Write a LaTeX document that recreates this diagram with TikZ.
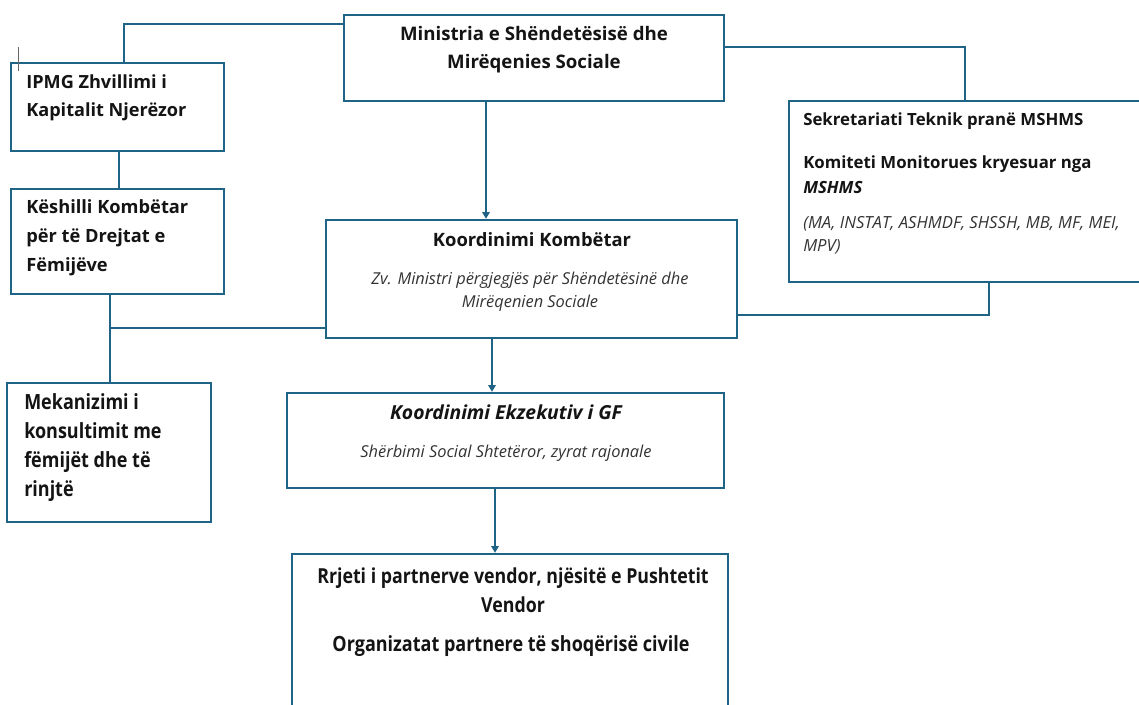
\documentclass[tikz,border=0pt]{standalone}
\usepackage{fontspec}
\setmainfont{Open Sans}
\newfontfamily\narrowfont[FakeStretch=0.86]{Open Sans}
\usetikzlibrary{fit,arrows.meta}
\definecolor{edge}{RGB}{31,100,135}
\definecolor{txt}{RGB}{20,20,20}
\begin{document}
\begin{tikzpicture}[x=0.75pt,y=-0.75pt,
  box/.style={draw=edge,line width=1.8pt,inner sep=0pt},
  conn/.style={draw=edge,line width=1.4pt},
  arr/.style={conn,-{Triangle[width=5.5pt,length=5pt]}},
  lbl/.style={inner sep=0pt,text=txt},
  bold12/.style={lbl,font=\bfseries\fontsize{13.8}{21}\selectfont},
  sub/.style={lbl,font=\itshape\fontsize{12.3}{17.25}\selectfont,text=black!80}]
\useasboundingbox[fill=white] (0,0) rectangle (1139,704);

% boxes
\node[box,fit={(344,15) (724,101)}] (min) {};
\node[box,fit={(11,63) (224,151)}] (ipmg) {};
\node[box,fit={(11,189) (224,294)}] (kesh) {};
\node[box,fit={(7,383) (211,522)}] (mek) {};
\node[box,fit={(326,220) (737,338)}] (kk) {};
\node[box,fit={(789,101) (1150,282)}] (sek) {};
\node[box,fit={(287,393) (724,488)}] (ke) {};
\node[box,fit={(292,554) (728,720)}] (rr) {};

% texts
\node[bold12,align=center,font=\bfseries\fontsize{14}{21}\selectfont] (tmin) at (534,50) {Ministria e Shëndetësisë dhe\\Mirëqenies Sociale};
\node[bold12,align=left,anchor=west,font=\bfseries\fontsize{13.6}{21}\selectfont] (tipmg) at (26,98) {IPMG Zhvillimi i\\Kapitalit Njerëzor};
\node[bold12,align=left,anchor=west,font=\bfseries\fontsize{13.7}{21.75}\selectfont] (tkesh) at (26,238) {Këshilli Kombëtar\\për të Drejtat e\\Fëmijëve};
\node[lbl,align=left,anchor=west,font=\narrowfont\bfseries\fontsize{15.7}{21.75}\selectfont] (tmek) at (24,447.5) {Mekanizimi i\\konsultimit me\\fëmijët dhe të\\rinjtë};
\node[bold12] (tkk) at (532,240) {Koordinimi Kombëtar};
\node[sub,align=center] (tkk2) at (530,291.5) {Zv. Ministri përgjegjës për Shëndetësinë dhe\\Mirëqenien Sociale};
\node[lbl,anchor=west,font=\bfseries\fontsize{12.6}{18.75}\selectfont] (tsek1) at (803,121) {Sekretariati Teknik pranë MSHMS};
\node[lbl,anchor=west,align=left,font=\bfseries\fontsize{12.6}{18.75}\selectfont] (tsek2) at (803,174.5) {Komiteti Monitorues kryesuar nga\\\textit{MSHMS}};
\node[lbl,anchor=west,align=left,font=\itshape\fontsize{12.5}{17.25}\selectfont,text=black!80] (tsek3) at (803,235.5) {(MA, INSTAT, ASHMDF, SHSSH, MB, MF, MEI,\\MPV)};
\node[lbl,font=\bfseries\itshape\fontsize{14.5}{21}\selectfont] (tke) at (506,412) {Koordinimi Ekzekutiv i GF};
\node[sub] (tke2) at (506,453) {Shërbimi Social Shtetëror, zyrat rajonale};
\node[lbl,align=center,font=\narrowfont\bfseries\fontsize{15.5}{21.75}\selectfont] (trr) at (513,590.5) {Rrjeti i partnerve vendor, njësitë e Pushtetit\\Vendor};
\node[lbl,font=\narrowfont\bfseries\fontsize{15.7}{21.75}\selectfont] (trr2) at (511,646) {Organizatat partnere të shoqërisë civile};

% connectors
\coordinate (c1) at (124,24);
\draw[conn] (min.west |- c1) -- (c1) -- (c1 |- ipmg.north);
\coordinate (c2) at (119,170);
\draw[conn] (c2 |- ipmg.south) -- (c2 |- kesh.north);
\coordinate (c3) at (110,328);
\draw[conn] (c3 |- kesh.south) -- (c3) -- (c3 -| kk.west);
\draw[conn] (c3) -- (c3 |- mek.north);
\coordinate (c4) at (486,160);
\draw[arr] (c4 |- min.south) -- (c4 |- kk.north);
\coordinate (c5) at (965,47);
\draw[conn] (min.east |- c5) -- (c5) -- (c5 |- sek.north);
\coordinate (c6) at (989,315);
\draw[conn] (c6 |- sek.south) -- (c6) -- (c6 -| kk.east);
\coordinate (c7) at (492,360);
\draw[arr] (c7 |- kk.south) -- (c7 |- ke.north);
\coordinate (c8) at (495,520);
\draw[arr] (c8 |- ke.south) -- (c8 |- rr.north);

% text cursor mark
\draw[black!60,line width=0.6pt] (18,47) -- (18,71);
\end{tikzpicture}
\end{document}
